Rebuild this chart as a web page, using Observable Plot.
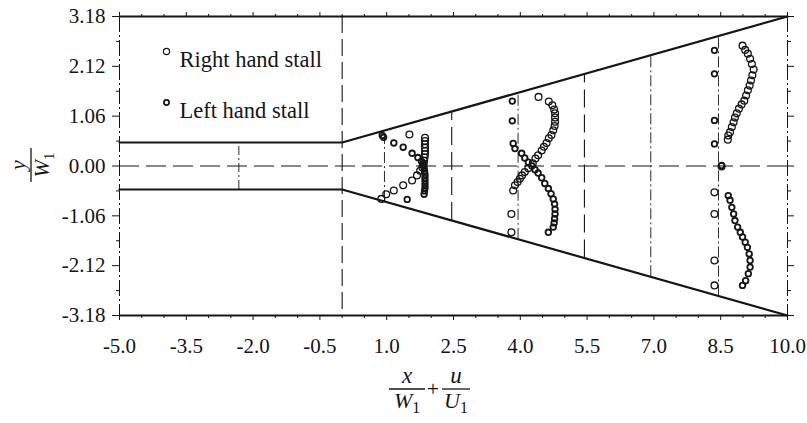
<!DOCTYPE html>
<html>
<head>
<meta charset="utf-8">
<script src="https://cdn.jsdelivr.net/npm/d3@7"></script>
<script src="https://cdn.jsdelivr.net/npm/@observablehq/plot@0.6"></script>
<style>
  body { margin: 0; background: #fff; }
  #chart { width: 807px; height: 423px; }
  #chart svg text { font-family: "Liberation Serif", "Times New Roman", serif; }
</style>
</head>
<body>
<div id="chart"></div>
<script>
// Axis ticks
const xTicks = [-5.0, -3.5, -2.0, -0.5, 1.0, 2.5, 4.0, 5.5, 7.0, 8.5, 10.0];
const xMinor = [-4.5, -4.0, -3.0, -2.5, -1.5, -1.0, 0.0, 0.5, 1.5, 2.0, 3.0, 3.5, 4.5, 5.0, 6.0, 6.5, 7.5, 8.0, 9.0, 9.5];
const yTicks = [-3.18, -2.12, -1.06, 0.00, 1.06, 2.12, 3.18];
const yMinor = [-2.65, -1.59, -0.53, 0.53, 1.59, 2.65];

// Channel geometry: inlet duct, then diverging walls (upper wall; lower is its mirror)
const wallX = [-5, 0, 10];
const wallY = [0.5, 0.5, 3.18];
const throatX = [-2.32];
const stationsDashed = [2.46, 5.44];
const stationsDotted = [0.95, 3.95, 6.93, 8.45];

// Right hand stall profiles, plotted at x/W1 + u/U1
const rightX = [
  1.51, 1.86, 1.86, 1.86, 1.86, 1.86, 1.86, 1.85, 1.84, 1.83, 1.80, 1.75, 1.68, 1.57, 1.37, 1.16, 0.99, 0.88,
  4.41, 4.64, 4.72, 4.76, 4.78, 4.78, 4.78, 4.77, 4.74, 4.70, 4.64, 4.59, 4.53, 4.48, 4.40, 4.34, 4.28, 4.18, 4.10, 4.04, 3.99, 3.94, 3.88, 3.84, 3.80, 3.80,
  8.99, 9.05, 9.11, 9.16, 9.20, 9.24, 9.21, 9.18, 9.15, 9.11, 9.07, 9.03, 8.97, 8.91, 8.86, 8.82, 8.79, 8.75, 8.71, 8.67, 8.66, 8.52, 8.36, 8.36, 8.36, 8.36
];
const rightY = [
  0.67, 0.60, 0.53, 0.46, 0.39, 0.32, 0.25, 0.18, 0.11, 0.04, -0.03, -0.10, -0.20, -0.31, -0.41, -0.52, -0.60, -0.70,
  1.47, 1.37, 1.29, 1.20, 1.12, 1.03, 0.94, 0.85, 0.76, 0.66, 0.59, 0.49, 0.41, 0.33, 0.23, 0.16, 0.06, -0.05, -0.13, -0.20, -0.27, -0.34, -0.41, -0.52, -1.02, -1.41,
  2.56, 2.47, 2.39, 2.28, 2.17, 2.05, 1.93, 1.82, 1.71, 1.61, 1.50, 1.39, 1.31, 1.22, 1.12, 1.03, 0.93, 0.83, 0.72, 0.65, 0.56, -0.01, -0.56, -1.02, -2.01, -2.54
];

// Left hand stall profiles
const leftX = [
  0.90, 0.93, 1.16, 1.37, 1.57, 1.70, 1.78, 1.82, 1.84, 1.85, 1.86, 1.86, 1.86, 1.86, 1.86, 1.85, 1.84, 1.46,
  3.82, 3.82, 3.84, 3.88, 4.03, 4.10, 4.18, 4.26, 4.33, 4.40, 4.48, 4.55, 4.63, 4.69, 4.74, 4.77, 4.78, 4.78, 4.77, 4.76, 4.74, 4.63,
  8.36, 8.36, 8.36, 8.36, 8.52, 8.67, 8.71, 8.75, 8.79, 8.82, 8.88, 8.94, 8.99, 9.05, 9.10, 9.14, 9.16, 9.16, 9.12, 9.06, 8.99
];
const leftY = [
  0.65, 0.61, 0.49, 0.40, 0.27, 0.18, 0.10, 0.03, -0.04, -0.11, -0.18, -0.25, -0.32, -0.39, -0.46, -0.53, -0.60, -0.71,
  1.38, 0.96, 0.48, 0.37, 0.27, 0.17, 0.08, 0.00, -0.08, -0.15, -0.25, -0.37, -0.48, -0.59, -0.70, -0.81, -0.92, -1.02, -1.12, -1.21, -1.30, -1.41,
  2.46, 1.96, 0.97, 0.47, 0.01, -0.63, -0.73, -0.88, -1.02, -1.16, -1.30, -1.41, -1.51, -1.62, -1.73, -1.87, -2.01, -2.15, -2.29, -2.44, -2.54
];

const legendLabels = ["Right hand stall", "Left hand stall"];

const ink = "#151515";
const serif = "Liberation Serif, Times New Roman, serif";

const upperWall = wallX.map((x, i) => ({x, y: wallY[i]}));
const lowerWall = wallX.map((x, i) => ({x, y: -wallY[i]}));
const wallAt = d3.scaleLinear().domain(wallX).range(wallY);
const right = rightX.map((x, i) => ({x, y: rightY[i]}));
const left = leftX.map((x, i) => ({x, y: leftY[i]}));

const blank = () => "";

const chart = Plot.plot({
  width: 807,
  height: 423,
  marginLeft: 119,
  marginRight: 20,
  marginTop: 16,
  marginBottom: 108,
  x: {domain: [-5, 10], axis: null},
  y: {domain: [-3.18, 3.18], axis: null},
  style: {fontFamily: serif, fontSize: "21px", color: ink, background: "#fff", overflow: "visible"},
  marks: [
    // frame
    Plot.ruleX([-5, 10], {stroke: ink, strokeWidth: 1, strokeDasharray: "16,3,2,3"}),
    Plot.ruleY([-3.18, 3.18], {stroke: ink, strokeWidth: 1.8}),

    // axes: bottom with labels, top/right mirrored ticks
    Plot.axisX({ticks: xTicks, tickSize: 5, tickPadding: 18, tickFormat: d => d.toFixed(1), stroke: ink, fill: ink, fontSize: 21, label: null}),
    Plot.axisX({ticks: xMinor, tickSize: 3, tickFormat: blank, stroke: ink, label: null}),
    Plot.axisX({anchor: "top", ticks: xTicks, tickSize: 5, tickFormat: blank, stroke: ink, label: null}),
    Plot.axisX({anchor: "top", ticks: xMinor, tickSize: 3, tickFormat: blank, stroke: ink, label: null}),
    Plot.axisY({ticks: yTicks, tickSize: 7, tickPadding: 7, tickFormat: d => d.toFixed(2), stroke: ink, fill: ink, fontSize: 21, label: null}),
    Plot.axisY({ticks: yMinor, tickSize: 3, tickFormat: blank, stroke: ink, label: null}),
    Plot.axisY({anchor: "right", ticks: yTicks, tickSize: 6, tickFormat: blank, stroke: ink, label: null}),
    Plot.axisY({anchor: "right", ticks: yMinor, tickSize: 3, tickFormat: blank, stroke: ink, label: null}),

    // centreline and diffuser inlet
    Plot.ruleY([0], {stroke: ink, strokeWidth: 1.1, strokeDasharray: "20,7"}),
    Plot.ruleX([0], {stroke: ink, strokeWidth: 1.1, strokeDasharray: "17,6"}),
    Plot.ruleX(throatX, {y1: x => -wallAt(x), y2: x => wallAt(x), stroke: ink, strokeWidth: 0.9, strokeDasharray: "9,3,2,3"}),

    // measurement stations
    Plot.ruleX(stationsDashed, {y1: x => -wallAt(x), y2: x => wallAt(x), stroke: ink, strokeWidth: 1.1, strokeDasharray: "18,7"}),
    Plot.ruleX(stationsDotted, {y1: x => -wallAt(x), y2: x => wallAt(x), stroke: ink, strokeWidth: 0.9, strokeDasharray: "11,3,2,3"}),

    // channel walls
    Plot.line(upperWall, {x: "x", y: "y", stroke: ink, strokeWidth: 2.2}),
    Plot.line(lowerWall, {x: "x", y: "y", stroke: ink, strokeWidth: 2.2}),

    // velocity profiles
    Plot.dot(right, {x: "x", y: "y", r: 3.4, stroke: ink, strokeWidth: 1.3, fill: "none"}),
    Plot.dot(left, {x: "x", y: "y", r: 2.8, stroke: ink, strokeWidth: 1.8, fill: "none"}),

    // legend
    Plot.dot([legendLabels[0]], {frameAnchor: "top-left", dx: 47, dy: 35, r: 3.1, stroke: ink, strokeWidth: 1.2, fill: "none"}),
    Plot.dot([legendLabels[1]], {frameAnchor: "top-left", dx: 47, dy: 86, r: 2.6, stroke: ink, strokeWidth: 1.7, fill: "none"}),
    Plot.text([legendLabels[0]], {frameAnchor: "top-left", dx: 60, dy: 35, text: d => d, textAnchor: "start", fontSize: 22.5, fill: ink}),
    Plot.text([legendLabels[1]], {frameAnchor: "top-left", dx: 60, dy: 86, text: d => d, textAnchor: "start", fontSize: 22.5, fill: ink})
  ]
});

document.getElementById("chart").append(chart);

// Axis titles drawn as stacked fractions
const svg = d3.select(chart);
function fraction(g, num, den, sub, cx, half, size) {
  g.append("text").attr("x", cx).attr("y", -6).attr("text-anchor", "middle")
    .attr("font-style", "italic").attr("font-size", size + 1).attr("fill", ink).text(num);
  g.append("line").attr("x1", cx - half).attr("x2", cx + half).attr("y1", 0).attr("y2", 0)
    .attr("stroke", ink).attr("stroke-width", 1.3);
  const t = g.append("text").attr("x", cx).attr("y", size - 3).attr("text-anchor", "middle")
    .attr("fill", ink).attr("font-size", size);
  t.append("tspan").attr("font-style", "italic").text(den);
  t.append("tspan").attr("font-size", size * 0.72).attr("dy", 5).text(sub);
}

const yTitle = svg.append("g").attr("transform", "translate(31,165) rotate(-90)");
fraction(yTitle, "y", "W", "1", 0, 17, 21);

const xTitle = svg.append("g").attr("transform", "translate(0,389)");
fraction(xTitle, "x", "W", "1", 407, 18, 22);
xTitle.append("text").attr("x", 433).attr("y", 7).attr("text-anchor", "middle")
  .attr("font-size", 22).attr("fill", ink).text("+");
fraction(xTitle, "u", "U", "1", 456, 14, 22);
</script>
</body>
</html>
